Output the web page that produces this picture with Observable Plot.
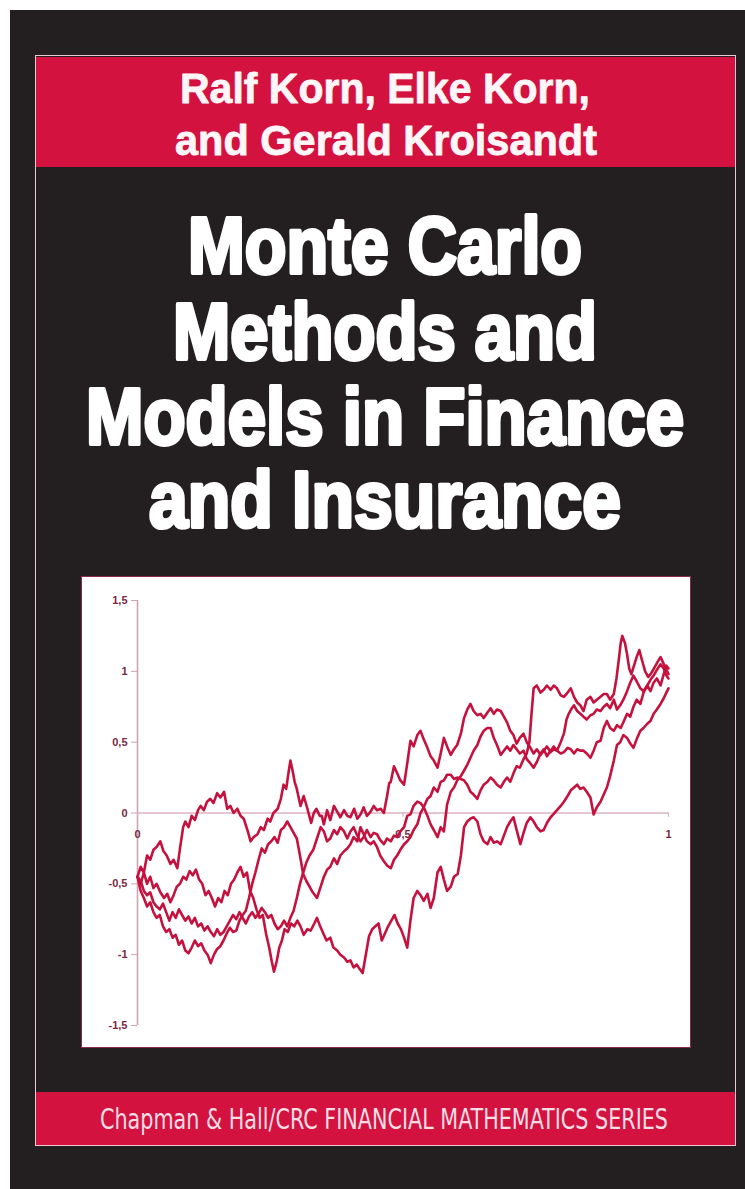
<!DOCTYPE html>
<html>
<head>
<meta charset="utf-8">
<script src="https://cdn.jsdelivr.net/npm/d3@7"></script>
<script src="https://cdn.jsdelivr.net/npm/@observablehq/plot@0.6"></script>
<style>
  html, body { margin: 0; padding: 0; background: #ffffff; }
  body { position: relative; width: 745px; height: 1189px; overflow: hidden; }
  .abs { position: absolute; }
  #cover { left: 10px; top: 10px; width: 735px; height: 1179px; background: #231f20; }
  #frame { left: 35px; top: 55px; width: 699px; height: 1089px; border: 1.5px solid #ecc9d2; }
  #topband { left: 36px; top: 57px; width: 699px; height: 110px; background: #d3123f; }
  #botband { left: 36px; top: 1092px; width: 699px; height: 53px; background: #d3123f; }
  #texts { left: 0; top: 0; }
  #panel { left: 81px; top: 576px; width: 608px; height: 470px; border: 1.5px solid #8c2a47; background: #fff; }
  #panel svg { display: block; }
</style>
</head>
<body>
<div id="cover" class="abs"></div>
<div id="frame" class="abs"></div>
<div id="topband" class="abs"></div>
<div id="botband" class="abs"></div>
<svg id="texts" class="abs" width="745" height="1189"></svg>
<div id="panel" class="abs"></div>
<script>
// ---- cover texts ----
const authorLines = ["Ralf Korn, Elke Korn,", "and Gerald Kroisandt"];
const titleLines = ["Monte Carlo", "Methods and", "Models in Finance", "and Insurance"];
const seriesLine = "Chapman & Hall/CRC FINANCIAL MATHEMATICS SERIES";

// ---- chart data: four simulated paths ----
const xTicks = [0, 0.5, 1];
const yTicks = [-1.5, -1, -0.5, 0, 0.5, 1, 1.5];

const pathA = [[0,-0.45],[0.006,-0.38],[0.012,-0.42],[0.018,-0.3],[0.024,-0.33],[0.03,-0.26],[0.036,-0.24],[0.043,-0.2],[0.049,-0.27],[0.055,-0.3],[0.062,-0.36],[0.068,-0.33],[0.075,-0.39],[0.08,-0.25],[0.086,-0.1],[0.09,-0.06],[0.096,-0.1],[0.102,-0.02],[0.108,-0.05],[0.114,0.02],[0.119,0.05],[0.125,0.02],[0.131,0.08],[0.137,0.1],[0.143,0.07],[0.15,0.14],[0.156,0.11],[0.163,0.15],[0.169,0.03],[0.175,0.05],[0.181,0.0],[0.188,0.03],[0.194,-0.02],[0.2,-0.04],[0.207,-0.12],[0.213,-0.2],[0.219,-0.17],[0.226,-0.15],[0.232,-0.1],[0.238,-0.12],[0.245,-0.04],[0.25,-0.06],[0.256,0.0],[0.264,0.03],[0.27,0.1],[0.275,0.2],[0.28,0.17],[0.285,0.3],[0.288,0.37],[0.292,0.3],[0.296,0.22],[0.3,0.17],[0.307,0.05],[0.313,0.12],[0.32,0.03],[0.327,-0.07],[0.332,0.0],[0.337,0.03],[0.343,-0.02],[0.347,-0.02],[0.351,-0.08],[0.357,0.02],[0.363,-0.05],[0.37,0.05],[0.376,0.01],[0.382,-0.03],[0.389,0.02],[0.395,-0.02],[0.401,-0.03],[0.408,0.03],[0.414,-0.04],[0.42,-0.01],[0.426,0.04],[0.432,-0.02],[0.439,0.01],[0.445,0.05],[0.451,0.02],[0.458,0.03],[0.464,0.0],[0.47,0.12],[0.474,0.21],[0.477,0.22],[0.483,0.33],[0.489,0.28],[0.495,0.23],[0.502,0.2],[0.508,0.35],[0.514,0.51],[0.52,0.47],[0.527,0.55],[0.533,0.58],[0.539,0.52],[0.546,0.46],[0.552,0.4],[0.558,0.37],[0.565,0.32],[0.571,0.42],[0.577,0.53],[0.583,0.47],[0.59,0.41],[0.596,0.45],[0.602,0.48],[0.609,0.56],[0.615,0.67],[0.621,0.73],[0.627,0.77],[0.633,0.72],[0.64,0.69],[0.646,0.7],[0.652,0.67],[0.659,0.71],[0.665,0.74],[0.671,0.7],[0.677,0.73],[0.684,0.72],[0.69,0.68],[0.696,0.64],[0.702,0.58],[0.708,0.55],[0.714,0.49],[0.72,0.53],[0.727,0.56],[0.733,0.5],[0.74,0.46],[0.746,0.42],[0.752,0.45],[0.759,0.41],[0.765,0.44],[0.771,0.47],[0.778,0.43],[0.784,0.45],[0.79,0.44],[0.797,0.5],[0.803,0.56],[0.808,0.66],[0.812,0.7],[0.818,0.74],[0.822,0.76],[0.828,0.72],[0.834,0.7],[0.84,0.68],[0.846,0.66],[0.853,0.69],[0.859,0.7],[0.865,0.73],[0.872,0.72],[0.878,0.75],[0.884,0.77],[0.89,0.74],[0.897,0.8],[0.903,0.73],[0.909,0.76],[0.915,0.8],[0.922,0.86],[0.928,0.92],[0.934,0.97],[0.94,0.93],[0.947,0.88],[0.953,0.86],[0.96,0.9],[0.966,0.94],[0.972,0.97],[0.978,1.01],[0.985,1.05],[0.991,1.02],[0.996,0.97],[1,0.95]];

const pathB = [[0,-0.45],[0.006,-0.5],[0.012,-0.42],[0.018,-0.5],[0.024,-0.45],[0.03,-0.53],[0.036,-0.5],[0.043,-0.56],[0.05,-0.6],[0.056,-0.57],[0.062,-0.63],[0.068,-0.58],[0.074,-0.52],[0.08,-0.5],[0.086,-0.45],[0.092,-0.47],[0.098,-0.41],[0.104,-0.44],[0.11,-0.4],[0.116,-0.47],[0.122,-0.5],[0.128,-0.58],[0.134,-0.55],[0.14,-0.6],[0.146,-0.66],[0.152,-0.6],[0.158,-0.63],[0.164,-0.55],[0.17,-0.58],[0.176,-0.5],[0.182,-0.47],[0.188,-0.42],[0.194,-0.38],[0.2,-0.45],[0.206,-0.42],[0.212,-0.55],[0.218,-0.6],[0.224,-0.68],[0.23,-0.74],[0.236,-0.72],[0.242,-0.85],[0.248,-0.95],[0.253,-1.05],[0.257,-1.12],[0.262,-1.05],[0.267,-0.95],[0.272,-0.9],[0.277,-0.82],[0.283,-0.84],[0.289,-0.78],[0.295,-0.8],[0.301,-0.76],[0.307,-0.8],[0.313,-0.86],[0.32,-0.82],[0.326,-0.83],[0.333,-0.78],[0.338,-0.74],[0.344,-0.8],[0.35,-0.85],[0.356,-0.9],[0.363,-0.88],[0.369,-0.95],[0.376,-0.97],[0.382,-1.0],[0.389,-1.02],[0.395,-1.05],[0.401,-1.04],[0.407,-1.09],[0.413,-1.07],[0.418,-1.1],[0.424,-1.13],[0.43,-1.0],[0.436,-0.87],[0.442,-0.82],[0.448,-0.8],[0.454,-0.78],[0.46,-0.9],[0.466,-0.85],[0.472,-0.8],[0.478,-0.76],[0.484,-0.72],[0.49,-0.78],[0.496,-0.82],[0.502,-0.88],[0.508,-0.95],[0.514,-0.76],[0.52,-0.6],[0.527,-0.55],[0.533,-0.58],[0.539,-0.62],[0.546,-0.57],[0.552,-0.67],[0.558,-0.6],[0.565,-0.42],[0.571,-0.38],[0.577,-0.47],[0.583,-0.55],[0.59,-0.52],[0.596,-0.45],[0.603,-0.43],[0.609,-0.3],[0.615,-0.1],[0.621,-0.06],[0.627,-0.04],[0.633,-0.03],[0.64,-0.06],[0.646,-0.15],[0.652,-0.2],[0.659,-0.22],[0.665,-0.17],[0.671,-0.21],[0.677,-0.2],[0.684,-0.22],[0.69,-0.16],[0.696,-0.1],[0.702,-0.06],[0.708,-0.03],[0.714,-0.12],[0.721,-0.22],[0.727,-0.14],[0.733,-0.07],[0.74,-0.03],[0.746,-0.06],[0.752,-0.1],[0.759,-0.13],[0.765,-0.12],[0.771,-0.07],[0.778,-0.03],[0.783,-0.01],[0.79,0.02],[0.797,0.05],[0.803,0.08],[0.81,0.12],[0.816,0.16],[0.822,0.18],[0.828,0.2],[0.834,0.17],[0.84,0.18],[0.846,0.15],[0.853,0.11],[0.859,-0.01],[0.865,0.04],[0.872,0.08],[0.878,0.13],[0.884,0.18],[0.89,0.26],[0.897,0.37],[0.903,0.48],[0.909,0.5],[0.915,0.55],[0.922,0.53],[0.928,0.49],[0.934,0.46],[0.94,0.52],[0.947,0.58],[0.953,0.6],[0.96,0.63],[0.966,0.65],[0.972,0.7],[0.978,0.73],[0.985,0.77],[0.991,0.81],[0.996,0.85],[1,0.88]];

const pathC = [[0,-0.45],[0.006,-0.55],[0.012,-0.6],[0.018,-0.66],[0.024,-0.63],[0.03,-0.7],[0.036,-0.74],[0.042,-0.72],[0.048,-0.8],[0.054,-0.84],[0.06,-0.82],[0.066,-0.88],[0.072,-0.86],[0.078,-0.93],[0.084,-0.9],[0.09,-0.97],[0.096,-0.99],[0.102,-0.95],[0.108,-0.9],[0.114,-0.94],[0.12,-0.92],[0.126,-0.97],[0.132,-1.0],[0.138,-1.06],[0.144,-1.0],[0.15,-0.96],[0.156,-0.94],[0.162,-0.9],[0.168,-0.85],[0.174,-0.81],[0.18,-0.84],[0.186,-0.83],[0.192,-0.76],[0.198,-0.72],[0.204,-0.69],[0.21,-0.6],[0.216,-0.5],[0.222,-0.42],[0.228,-0.33],[0.234,-0.25],[0.24,-0.28],[0.246,-0.22],[0.252,-0.2],[0.258,-0.17],[0.264,-0.21],[0.27,-0.12],[0.276,-0.1],[0.282,-0.06],[0.288,-0.1],[0.294,-0.14],[0.3,-0.18],[0.306,-0.3],[0.312,-0.43],[0.318,-0.48],[0.324,-0.52],[0.33,-0.56],[0.338,-0.6],[0.345,-0.52],[0.351,-0.45],[0.357,-0.4],[0.363,-0.38],[0.37,-0.32],[0.376,-0.36],[0.382,-0.3],[0.389,-0.27],[0.395,-0.25],[0.401,-0.22],[0.407,-0.17],[0.414,-0.2],[0.42,-0.1],[0.426,-0.15],[0.432,-0.2],[0.439,-0.22],[0.445,-0.2],[0.451,-0.24],[0.457,-0.3],[0.464,-0.34],[0.47,-0.37],[0.477,-0.39],[0.483,-0.33],[0.489,-0.3],[0.495,-0.26],[0.502,-0.22],[0.508,-0.2],[0.514,-0.17],[0.52,-0.12],[0.527,-0.08],[0.533,0.0],[0.539,0.04],[0.546,0.1],[0.552,0.12],[0.558,0.18],[0.565,0.15],[0.571,0.22],[0.577,0.23],[0.583,0.27],[0.59,0.27],[0.596,0.24],[0.602,0.25],[0.609,0.24],[0.615,0.23],[0.621,0.2],[0.627,0.15],[0.633,0.13],[0.64,0.1],[0.646,0.16],[0.652,0.2],[0.659,0.22],[0.665,0.25],[0.671,0.23],[0.677,0.2],[0.684,0.18],[0.69,0.22],[0.696,0.25],[0.702,0.22],[0.708,0.28],[0.714,0.33],[0.72,0.32],[0.727,0.38],[0.733,0.42],[0.738,0.5],[0.742,0.7],[0.746,0.88],[0.752,0.9],[0.759,0.85],[0.765,0.87],[0.771,0.9],[0.778,0.87],[0.784,0.9],[0.79,0.88],[0.797,0.83],[0.803,0.82],[0.81,0.85],[0.816,0.88],[0.822,0.82],[0.828,0.78],[0.834,0.76],[0.84,0.72],[0.846,0.8],[0.853,0.82],[0.859,0.78],[0.865,0.8],[0.872,0.82],[0.878,0.84],[0.884,0.84],[0.89,0.8],[0.897,0.84],[0.902,0.95],[0.906,1.07],[0.91,1.2],[0.913,1.25],[0.918,1.2],[0.922,1.12],[0.926,1.02],[0.93,0.98],[0.935,1.04],[0.94,1.1],[0.945,1.15],[0.95,1.08],[0.956,1.0],[0.962,0.96],[0.968,0.99],[0.974,1.03],[0.98,1.07],[0.985,1.1],[0.99,1.06],[0.995,1.02],[1,0.98]];

const pathD = [[0,-0.45],[0.006,-0.48],[0.012,-0.55],[0.018,-0.58],[0.024,-0.56],[0.03,-0.63],[0.036,-0.66],[0.042,-0.68],[0.048,-0.64],[0.054,-0.7],[0.06,-0.76],[0.066,-0.7],[0.072,-0.74],[0.078,-0.68],[0.084,-0.72],[0.09,-0.76],[0.096,-0.73],[0.102,-0.78],[0.108,-0.74],[0.114,-0.8],[0.12,-0.78],[0.126,-0.83],[0.132,-0.8],[0.138,-0.84],[0.144,-0.87],[0.15,-0.82],[0.156,-0.86],[0.162,-0.84],[0.168,-0.8],[0.174,-0.76],[0.18,-0.72],[0.186,-0.75],[0.192,-0.7],[0.198,-0.74],[0.204,-0.78],[0.21,-0.73],[0.216,-0.7],[0.222,-0.74],[0.228,-0.71],[0.234,-0.67],[0.24,-0.7],[0.246,-0.74],[0.252,-0.72],[0.258,-0.78],[0.264,-0.82],[0.27,-0.8],[0.276,-0.76],[0.282,-0.8],[0.288,-0.74],[0.294,-0.69],[0.3,-0.6],[0.306,-0.5],[0.312,-0.42],[0.318,-0.35],[0.324,-0.3],[0.331,-0.26],[0.338,-0.18],[0.345,-0.1],[0.351,-0.13],[0.357,-0.2],[0.363,-0.18],[0.37,-0.12],[0.376,-0.15],[0.382,-0.1],[0.389,-0.13],[0.395,-0.18],[0.401,-0.13],[0.407,-0.1],[0.414,-0.16],[0.42,-0.2],[0.426,-0.17],[0.432,-0.12],[0.439,-0.17],[0.445,-0.14],[0.451,-0.15],[0.457,-0.19],[0.464,-0.22],[0.47,-0.18],[0.477,-0.2],[0.483,-0.16],[0.489,-0.17],[0.495,-0.13],[0.502,-0.1],[0.508,-0.02],[0.514,-0.01],[0.52,0.05],[0.527,0.08],[0.533,0.07],[0.539,0.04],[0.546,-0.02],[0.552,-0.08],[0.558,-0.12],[0.565,-0.17],[0.571,-0.1],[0.577,-0.13],[0.583,0.06],[0.59,0.15],[0.596,0.18],[0.602,0.23],[0.609,0.26],[0.615,0.3],[0.621,0.34],[0.627,0.39],[0.633,0.44],[0.64,0.48],[0.646,0.54],[0.652,0.58],[0.659,0.6],[0.665,0.6],[0.671,0.53],[0.677,0.48],[0.684,0.41],[0.69,0.44],[0.696,0.47],[0.702,0.44],[0.708,0.48],[0.714,0.45],[0.72,0.42],[0.727,0.44],[0.733,0.38],[0.74,0.35],[0.746,0.32],[0.752,0.36],[0.759,0.42],[0.765,0.45],[0.771,0.4],[0.778,0.44],[0.784,0.47],[0.79,0.44],[0.797,0.42],[0.803,0.43],[0.81,0.46],[0.816,0.45],[0.822,0.42],[0.828,0.45],[0.834,0.44],[0.84,0.44],[0.846,0.42],[0.853,0.39],[0.859,0.44],[0.865,0.5],[0.872,0.51],[0.878,0.6],[0.884,0.65],[0.89,0.6],[0.897,0.58],[0.903,0.62],[0.91,0.6],[0.916,0.65],[0.922,0.7],[0.928,0.68],[0.934,0.75],[0.94,0.8],[0.947,0.77],[0.953,0.85],[0.96,0.9],[0.966,0.86],[0.972,0.92],[0.978,0.95],[0.985,0.9],[0.991,0.98],[0.996,1.04],[1,1.02]];

const paths = {A: pathA, B: pathB, C: pathC, D: pathD};
const rows = Object.entries(paths).flatMap(([id, pts]) => pts.map(([x, y]) => ({id, x, y})));

const fmt = d => String(d).replace(".", ",");

const chart = Plot.plot({
  width: 608,
  height: 470,
  marginLeft: 55,
  marginRight: 22,
  marginTop: 23,
  marginBottom: 22,
  x: {type: "linear", domain: [0, 1], axis: null},
  y: {type: "linear", domain: [-1.5, 1.5], axis: null},
  style: {background: "#ffffff", fontFamily: "'Liberation Sans', Arial, sans-serif"},
  marks: [
    Plot.ruleY([0], {x1: 0, x2: 1, stroke: "#e7c7cf", strokeWidth: 2}),
    Plot.ruleX([0], {y1: -1.5, y2: 1.5, stroke: "#cfa3b0", strokeWidth: 1.6}),
    Plot.axisY({ticks: yTicks, tickFormat: fmt, tickSize: 6, tickPadding: 4, label: null, stroke: "#cfa3b0", fill: "#7a2842", fontSize: 11, fontWeight: "bold"}),
    Plot.ruleX(xTicks, {x: d => d, y1: 0, y2: -0.03, stroke: "#d9b3be", strokeWidth: 1.2}),
    Plot.text(xTicks, {x: d => d, y: d => 0, dy: 21, text: fmt, fill: "#7a2842", fontSize: 11, fontWeight: "bold"}),
    Plot.line(rows, {x: "x", y: "y", z: "id", stroke: "#c5113d", strokeWidth: 2.6, strokeLinejoin: "round", strokeLinecap: "round"})
  ]
});
document.getElementById("panel").appendChild(chart);

// ---- cover text via SVG with fitted lengths ----
const NS = "http://www.w3.org/2000/svg";
const svg = document.getElementById("texts");
function addText(str, cx, baseline, width, size, opts) {
  const t = document.createElementNS(NS, "text");
  t.textContent = str;
  t.setAttribute("x", cx);
  t.setAttribute("y", baseline);
  t.setAttribute("text-anchor", "middle");
  t.setAttribute("font-size", size);
  t.setAttribute("font-family", opts.family);
  t.setAttribute("font-weight", opts.weight || "bold");
  t.setAttribute("fill", opts.fill);
  if (opts.stroke) {
    t.setAttribute("stroke", opts.stroke);
    t.setAttribute("stroke-width", opts.strokeWidth);
    t.setAttribute("stroke-linejoin", "round");
    t.setAttribute("paint-order", "stroke");
  }
  t.setAttribute("textLength", width);
  t.setAttribute("lengthAdjust", "spacingAndGlyphs");
  svg.appendChild(t);
}
const narrow = "'Liberation Sans Narrow', 'Liberation Sans', Arial, sans-serif";
addText(authorLines[0], 385, 103, 410, 43, {family: narrow, fill: "#fff6f8", stroke: "#fff6f8", strokeWidth: 0.8});
addText(authorLines[1], 386, 155, 422, 43, {family: narrow, fill: "#fff6f8", stroke: "#fff6f8", strokeWidth: 0.8});

const titleBase = [273, 359, 444, 527];
const titleWidth = [394, 424, 598, 472];
titleLines.forEach((s, i) => addText(s, 385, titleBase[i], titleWidth[i], 80,
  {family: narrow, fill: "#ffffff", stroke: "#ffffff", strokeWidth: 4}));

addText(seriesLine, 384, 1129, 568, 28, {family: "'DejaVu Sans Condensed', 'DejaVu Sans', sans-serif", weight: "normal", fill: "#f7dde4"});
</script>
</body>
</html>
